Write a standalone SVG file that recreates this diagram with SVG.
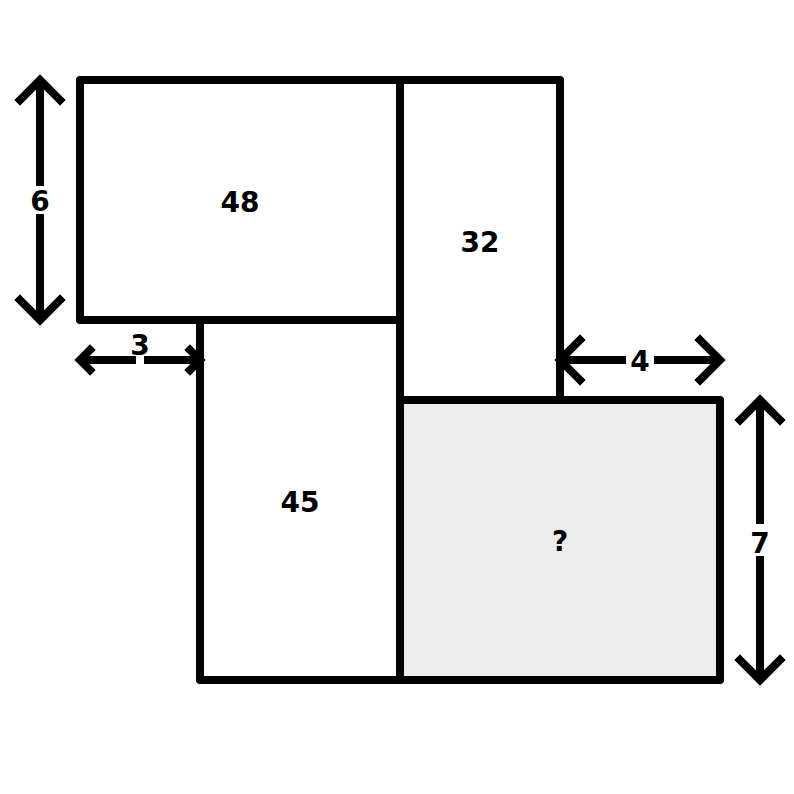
<svg xmlns="http://www.w3.org/2000/svg" width="794" height="794" viewBox="0 0 794 794">
<style>
.r{stroke:#000;stroke-width:8;stroke-linejoin:round}
.a{fill:none;stroke:#000;stroke-width:8;stroke-linecap:square;stroke-linejoin:miter}
.t{font-family:"DejaVu Sans",sans-serif;font-weight:bold;font-size:28px;text-anchor:middle;dominant-baseline:central;fill:#000}
</style>
<rect width="794" height="794" fill="#fff"/>
<g id="rect48"><rect class="r" x="80" y="80" width="320" height="240" fill="#fff"/><text class="t" x="240" y="202">48</text></g>
<g id="rect32"><rect class="r" x="400" y="80" width="160" height="320" fill="#fff"/><text class="t" x="480" y="242">32</text></g>
<g id="rect45"><rect class="r" x="200" y="320" width="200" height="360" fill="#fff"/><text class="t" x="300" y="502">45</text></g>
<g id="rectQ"><rect class="r" x="400" y="400" width="320" height="280" fill="#ececec"/><text class="t" x="560" y="541">?</text></g>
<g id="connectors">
<g id="dim6"><path class="a" d="M40 84V182M40 218V316M20 100L40 80L60 100M20 300L40 320L60 300"/><text class="t" x="40" y="201">6</text></g>
<g id="dim3"><path class="a" d="M84 360H132M148 360H196M90 350L80 360L90 370M190 350L200 360L190 370"/><text class="t" x="140" y="345">3</text></g>
<g id="dim4"><path class="a" d="M564 360H622M658 360H716M580 340L560 360L580 380M700 340L720 360L700 380"/><text class="t" x="640" y="361">4</text></g>
<g id="dim7"><path class="a" d="M760 404V520M760 560V676M740 420L760 400L780 420M740 660L760 680L780 660"/><text class="t" x="760" y="543">7</text></g>
</g>
</svg>
